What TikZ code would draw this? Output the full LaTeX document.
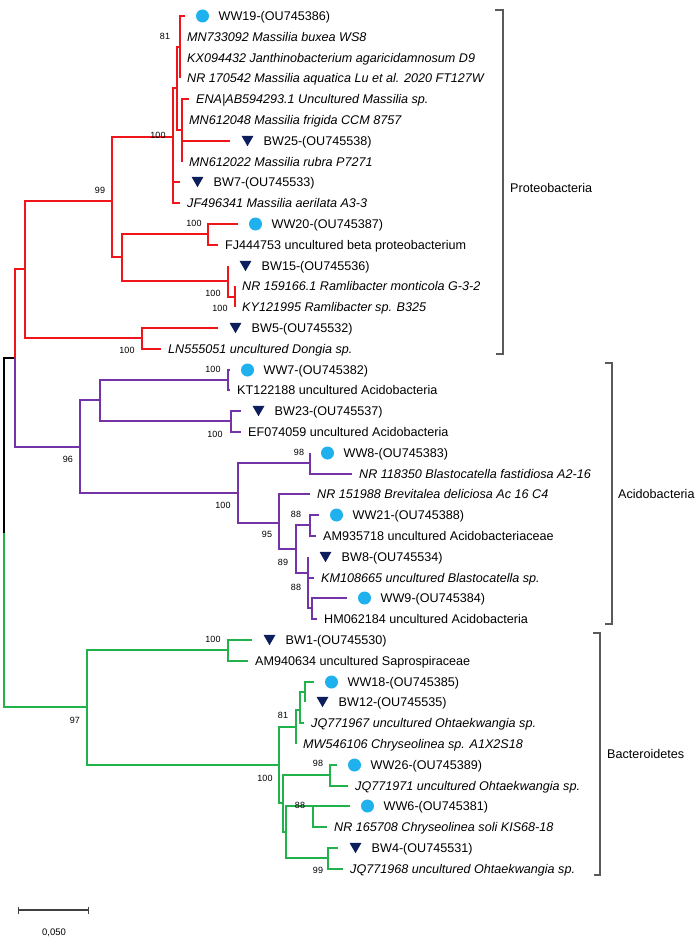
\documentclass[tikz,border=0pt]{standalone}
\usepackage{fontspec}
\setmainfont{Liberation Sans}
\usetikzlibrary{arrows.meta,shapes.geometric}
\definecolor{protRed}{HTML}{F2141B}
\definecolor{acidPurple}{HTML}{7434A8}
\definecolor{bactGreen}{HTML}{22B24C}
\definecolor{wwCyan}{HTML}{1EB1EE}
\definecolor{bwNavy}{HTML}{0C1E5B}
\definecolor{cladeGray}{HTML}{5A5A5A}

\begin{document}
\begin{tikzpicture}[x=1pt,y=-1pt,
  br/.style={line width=2.4pt},
  rootbr/.style={br,draw=black},
  redbr/.style={br,draw=protRed},
  purplebr/.style={br,draw=acidPurple},
  greenbr/.style={br,draw=bactGreen},
  leaf/.style={anchor=west,inner sep=1pt,font=\fontsize{12.6}{14}\selectfont,
               text height=8.5pt,text depth=0pt},
  leafit/.style={leaf,font=\fontsize{12.6}{14}\selectfont\itshape},
  boot/.style={inner sep=0pt,font=\fontsize{9}{10}\selectfont,
               text height=6.5pt,text depth=0pt},
  wwdot/.style={circle,fill=wwCyan,inner sep=0pt,minimum size=13pt},
  bwtri/.style={regular polygon,regular polygon sides=3,shape border rotate=180,
                fill=bwNavy,inner sep=0pt,minimum size=13.8pt,yshift=1.7pt},
  clade/.style={draw=cladeGray,line width=1.3pt},
  cladelab/.style={anchor=west,inner sep=0pt,font=\fontsize{12.6}{14}\selectfont,
                   text height=8.5pt,text depth=0pt},
  scalebar/.style={draw=black!75,line width=1.2pt,{Bar[width=7pt]}-{Bar[width=7pt]}}]

  \useasboundingbox (0,0) rectangle (699,944);

  % inner nodes of the tree
  \foreach \nm/\xx/\yy in {root/4/533, nPA/15/358, nProt/25/269, nA/112/201,
      nM/173/137, nM1/177/88, nM2/180/47, nM3/182/130, nB/122/257,
      nW20/208/234, nRam/228/281, nRam2/235/297, nDon/142/338,
      nAc/80/447, nA1/100/400, nW7/228/380, nB23/231/421, nA2/238/493,
      nW8/310/463, nA3/279/523, nA4/296/549, nW21/310/525, nA5/308/573,
      nA6/312/608, nB0/87/707, nBW1/228/650, nB1/279/765, nB2/296/727,
      nB3/300/710, nB4/305/692, nB5/283/803, nW26/330/775, nB6/286/832,
      nW6/313/806, nBW4/328/858}
    \coordinate (\nm) at (\xx,\yy);

  % tips of the branches
  \foreach \nm/\xx/\yy in {eWW19/185/16, eMN733/180/37, eKX/180/58, eNR170/180/78,
      eENA/189/99, eMN6120/182/120, eBW25/230/141, eMN6122/182/162,
      eBW7/180/182, eJF/180/203, eWW20/238/224, eFJ/218/245, eBW15/228/266,
      eNR159/235/286, eKY/235/307, eBW5/218/328, eLN/161/349,
      eWW7/230/370, eKT/230/390, eBW23/241/411, eEF/241/432, eWW8/310/453,
      eNR118/352/474, eNR151/310/494, eWW21/319/515, eAM935/316/536,
      eBW8/308/557, eKM/314/578, eWW9/347/598, eHM/317/619,
      eBW1/252/640, eAM940/248/661, eWW18/314/682, eBW12/305/702,
      eJQ67/304/723, eMW/296/744, eWW26/337/765, eJQ71/348/786,
      eWW6/350/806, eNR165/327/827, eBW4/338/848, eJQ68/343/869}
    \coordinate (\nm) at (\xx,\yy);

  % branches
  \draw[rootbr] (root) |- (nPA);
  \draw[greenbr] (root) |- (nB0);
  \foreach \p/\c in {nPA/nProt, nProt/nA, nProt/nDon, nA/nM, nA/nB,
      nM/nM1, nM/eBW7, nM/eJF, nM1/nM2, nM1/nM3,
      nM2/eWW19, nM2/eMN733, nM2/eKX, nM2/eNR170,
      nM3/eENA, nM3/eMN6120, nM3/eBW25, nM3/eMN6122,
      nB/nW20, nB/nRam, nW20/eWW20, nW20/eFJ, nRam/eBW15, nRam/nRam2,
      nRam2/eNR159, nRam2/eKY, nDon/eBW5, nDon/eLN}
    \draw[redbr] (\p) |- (\c);
  \foreach \p/\c in {nPA/nAc, nAc/nA1, nAc/nA2, nA1/nW7, nA1/nB23,
      nW7/eWW7, nW7/eKT, nB23/eBW23, nB23/eEF, nA2/nW8, nA2/nA3,
      nW8/eWW8, nW8/eNR118, nA3/eNR151, nA3/nA4, nA4/nW21, nA4/nA5,
      nW21/eWW21, nW21/eAM935, nA5/eBW8, nA5/eKM, nA5/nA6,
      nA6/eWW9, nA6/eHM}
    \draw[purplebr] (\p) |- (\c);
  \foreach \p/\c in {nB0/nBW1, nB0/nB1, nBW1/eBW1, nBW1/eAM940,
      nB1/nB2, nB1/nB5, nB2/nB3, nB2/eMW, nB3/nB4, nB3/eJQ67,
      nB4/eWW18, nB4/eBW12, nB5/nW26, nB5/nB6, nW26/eWW26, nW26/eJQ71,
      nB6/nW6, nB6/nBW4, nW6/eWW6, nW6/eNR165, nBW4/eBW4, nBW4/eJQ68}
    \draw[greenbr] (\p) |- (\c);

  % sequenced isolates (marker + label)
  \foreach \nm/\st/\txt in {WW19/wwdot/WW19-(OU745386), BW25/bwtri/BW25-(OU745538),
      BW7/bwtri/BW7-(OU745533), WW20/wwdot/WW20-(OU745387),
      BW15/bwtri/BW15-(OU745536), BW5/bwtri/BW5-(OU745532),
      WW7/wwdot/WW7-(OU745382), BW23/bwtri/BW23-(OU745537),
      WW8/wwdot/WW8-(OU745383), WW21/wwdot/WW21-(OU745388),
      BW8/bwtri/BW8-(OU745534), WW9/wwdot/WW9-(OU745384),
      BW1/bwtri/BW1-(OU745530), WW18/wwdot/WW18-(OU745385),
      BW12/bwtri/BW12-(OU745535), WW26/wwdot/WW26-(OU745389),
      WW6/wwdot/WW6-(OU745381), BW4/bwtri/BW4-(OU745531)} {
    \node[\st] (m\nm) at ([xshift=17.5pt]e\nm) {};
    \node[leaf] (t\nm) at ([xshift=32.5pt]e\nm) {\txt};
  }

  % reference sequences
  \foreach \nm/\st/\txt in {
      MN733/leafit/MN733092 Massilia buxea WS8,
      KX/leafit/KX094432 Janthinobacterium agaricidamnosum D9,
      NR170/leafit/NR 170542 Massilia aquatica Lu et al. 2020 FT127W,
      ENA/leafit/ENA|AB594293.1 Uncultured Massilia sp.,
      MN6120/leafit/MN612048 Massilia frigida CCM 8757,
      MN6122/leafit/MN612022 Massilia rubra P7271,
      JF/leafit/JF496341 Massilia aerilata A3-3,
      FJ/leaf/FJ444753 uncultured beta proteobacterium,
      NR159/leafit/NR 159166.1 Ramlibacter monticola G-3-2,
      KY/leafit/KY121995 Ramlibacter sp. B325,
      LN/leafit/LN555051 uncultured Dongia sp.,
      KT/leaf/KT122188 uncultured Acidobacteria,
      EF/leaf/EF074059 uncultured Acidobacteria,
      NR118/leafit/NR 118350 Blastocatella fastidiosa A2-16,
      NR151/leafit/NR 151988 Brevitalea deliciosa Ac 16 C4,
      AM935/leaf/AM935718 uncultured Acidobacteriaceae,
      KM/leafit/KM108665 uncultured Blastocatella sp.,
      HM/leaf/HM062184 uncultured Acidobacteria,
      AM940/leaf/AM940634 uncultured Saprospiraceae,
      JQ67/leafit/JQ771967 uncultured Ohtaekwangia sp.,
      MW/leafit/MW546106 Chryseolinea sp. A1X2S18,
      JQ71/leafit/JQ771971 uncultured Ohtaekwangia sp.,
      NR165/leafit/NR 165708 Chryseolinea soli KIS68-18,
      JQ68/leafit/JQ771968 uncultured Ohtaekwangia sp.}
    \node[\st] (t\nm) at ([xshift=6pt]e\nm) {\txt};

  % bootstrap values
  \foreach \bx/\by/\bv [count=\k] in {165/36/81, 158/135/100, 100/190/99,
      194/223/100, 213/293/100, 220/308/100, 127/350/100,
      213/369/100, 215/434/100, 68/459/96, 299/452/98, 223/505/100,
      296/514/88, 267/534/95, 283/562/89, 296/587/88,
      213/639/100, 75/720/97, 283/715/81, 265/778/100, 318/763/98,
      300/805/88, 318/870/99}
    \node[boot] (bs\k) at (\bx,\by) {\bv};

  % clade brackets
  \draw[clade] (495,10) -| (503,354) -- (496,354);
  \node[cladelab] (lProt) at (510,188) {Proteobacteria};
  \draw[clade] (605,363) -| (612,624) -- (605,624);
  \node[cladelab] (lAcid) at (618,494) {Acidobacteria};
  \draw[clade] (593,633) -| (600,875) -- (594,875);
  \node[cladelab] (lBact) at (607,754) {Bacteroidetes};

  % scale bar
  \coordinate (sbL) at (18,910);
  \coordinate (sbR) at (89,910);
  \draw[scalebar] (sbL) -- (sbR);
  \node[boot,font=\fontsize{9.5}{10}\selectfont] (sbLab) at (54,932) {0,050};
\end{tikzpicture}
\end{document}
